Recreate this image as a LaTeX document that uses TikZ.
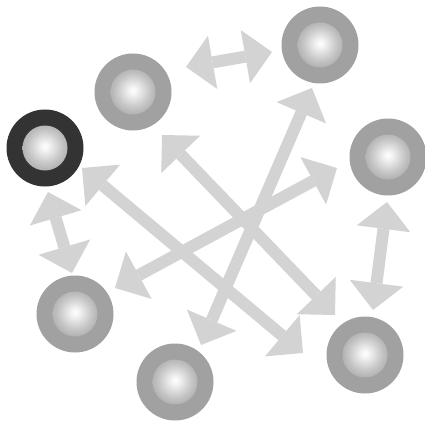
\documentclass[tikz,border=0pt]{standalone}
\usetikzlibrary{arrows.meta}
\definecolor{arrowgray}{HTML}{D3D3D3}
\definecolor{ringgray}{HTML}{A1A1A1}
\definecolor{ringdark}{HTML}{333333}
\pgfdeclareradialshading{ballshade}{\pgfpoint{0bp}{2bp}}{color(0bp)=(white); color(4bp)=(white!96!black); color(18bp)=(black!22); color(44bp)=(black!50); color(50bp)=(black!60)}
\tikzset{
  tipA/.tip={Triangle[length=27pt,width=54pt,line width=0pt]},
  link/.style={draw=arrowgray, line width=12pt, tipA-tipA},
  ring/.style={circle, fill=ringgray, minimum size=77pt, inner sep=0pt},
  darkring/.style={ring, fill=ringdark},
  ball/.style={circle, shade, shading=ballshade, minimum size=45pt, inner sep=0pt},
}
\begin{document}
\begin{tikzpicture}[x=1pt,y=-1pt]
\useasboundingbox (0,0) rectangle (425,425);
% arrow end points
\coordinate (t1) at (186,67);  \coordinate (t2) at (272,52);
\coordinate (r1) at (387,202); \coordinate (r2) at (373,310);
\coordinate (l1) at (48,192);  \coordinate (l2) at (72,273);
\coordinate (a1) at (312,88);  \coordinate (a2) at (201,345);
\coordinate (b1) at (162,135); \coordinate (b2) at (335,315);
\coordinate (c1) at (82,168);  \coordinate (c2) at (303,353);
\coordinate (d1) at (115,288); \coordinate (d2) at (337,168);
% connectors
\draw[link] (t1) -- (t2);
\draw[link] (r1) -- (r2);
\draw[link] (l1) -- (l2);
\draw[link] (a1) -- (a2);
\draw[link] (b1) -- (b2);
\draw[link] (c1) -- (c2);
\draw[link] (d1) -- (d2);
% nodes
\node[darkring] (n1) at (45,148) {};  \node[ball] (n1b) at (n1) {};
\node[ring] (n2) at (133,92) {};      \node[ball] (n2b) at (n2) {};
\node[ring] (n3) at (320,45) {};      \node[ball] (n3b) at (n3) {};
\node[ring] (n4) at (388,157) {};     \node[ball] (n4b) at (n4) {};
\node[ring] (n5) at (365,355) {};     \node[ball] (n5b) at (n5) {};
\node[ring] (n6) at (175,382) {};     \node[ball] (n6b) at (n6) {};
\node[ring] (n7) at (75,314) {};      \node[ball] (n7b) at (n7) {};
\end{tikzpicture}
\end{document}
